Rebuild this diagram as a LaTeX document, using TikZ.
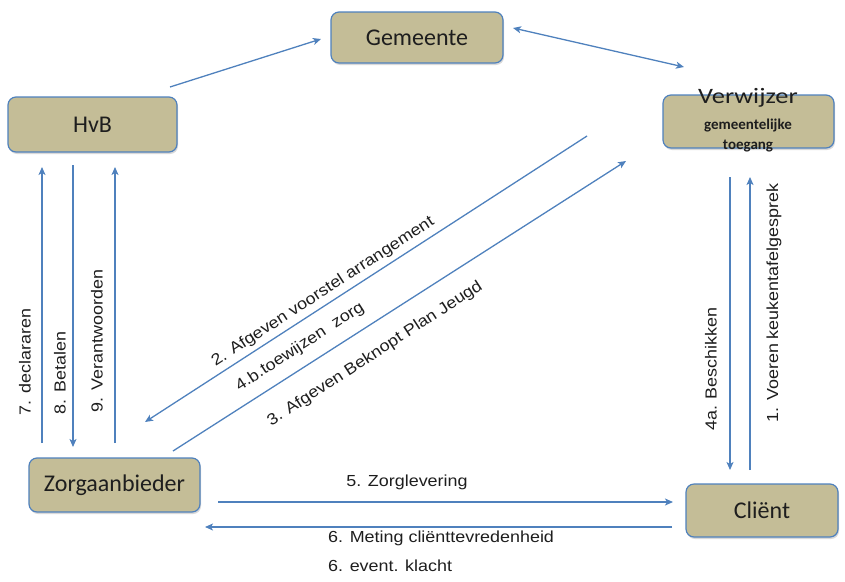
\documentclass[tikz,border=0pt]{standalone}
\usepackage{fontspec}
\setmainfont{Liberation Sans}
\newfontfamily\boxfont{Carlito}
\newfontfamily\boxwide[FakeStretch=1.2]{Carlito}
\newfontfamily\lblfont[FakeStretch=1.12]{Liberation Sans}
\usetikzlibrary{arrows.meta,shadows}
\definecolor{boxfill}{RGB}{196,189,151}
\definecolor{boxline}{RGB}{79,129,189}
\definecolor{arr}{RGB}{79,129,189}
\definecolor{txt}{RGB}{30,30,30}
\tikzset{
  entity/.style={draw=boxline, line width=1.2pt, fill=boxfill, rounded corners=8pt,
    drop shadow={opacity=0.3,shadow xshift=1pt,shadow yshift=-2pt},
    font=\boxfont\fontsize{24}{28}\selectfont, text=txt, inner sep=0pt},
  conn/.style={draw=arr, line width=1.3pt, -{Stealth[length=8pt,width=7pt,inset=2pt]}},
  both/.style={draw=arr, line width=1.3pt, {Stealth[length=8pt,width=7pt,inset=2pt]}-{Stealth[length=8pt,width=7pt,inset=2pt]}},
  lbl/.style={font=\lblfont\fontsize{16}{18}\selectfont, text=txt, inner sep=0pt},
}
\begin{document}
\begin{tikzpicture}[x=1pt,y=-1pt]
\useasboundingbox (0,0) rectangle (845,581);
% boxes
\node[entity, minimum width=172pt, minimum height=51pt] (gem) at (417,37.5) {Gemeente};
\node[entity, minimum width=171pt, minimum height=53pt] (verw) at (748.5,121.5) {};
\node[entity, minimum width=169pt, minimum height=55pt] (hvb) at (92.5,124.5) {HvB};
\node[entity, minimum width=171pt, minimum height=54pt] (zorg) at (114.5,485) {Zorgaanbieder};
\node[entity, minimum width=152pt, minimum height=53pt] (cli) at (762,510.5) {Cliënt};
\node[font=\boxwide\fontsize{22}{22}\selectfont, text=txt, inner sep=0pt] (verwt) at (748,98) {Verwijzer};
\node[font=\boxfont\bfseries\fontsize{15}{15}\selectfont, text=txt, inner sep=0pt] (verwg) at (748,126) {gemeentelijke};
\node[font=\boxfont\bfseries\fontsize{15}{15}\selectfont, text=txt, inner sep=0pt] (verwo) at (748,146) {toegang};
% coordinates
\coordinate (hg1) at (170,87);   \coordinate (hg2) at (321,39);
\coordinate (gv1) at (513,28);   \coordinate (gv2) at (684,67);
\coordinate (d2a) at (587,136);  \coordinate (d2b) at (145,422);
\coordinate (d3a) at (173,451);  \coordinate (d3b) at (626,161);
\coordinate (v7a) at (42,443);   \coordinate (v7b) at (42,167);
\coordinate (v8a) at (73,165);   \coordinate (v8b) at (73,447);
\coordinate (v9a) at (115,443);  \coordinate (v9b) at (115,167);
\coordinate (r4a) at (730,177);  \coordinate (r4b) at (730,470);
\coordinate (r1a) at (750,470);  \coordinate (r1b) at (750,177);
\coordinate (h5a) at (218,502);  \coordinate (h5b) at (673,502);
\coordinate (h6a) at (672,527);  \coordinate (h6b) at (205,527);
% connectors
\draw[conn] (hg1) -- (hg2);
\draw[both] (gv1) -- (gv2);
\draw[conn] (d2a) -- (d2b);
\draw[conn] (d3a) -- (d3b);
\draw[conn] (v7a) -- (v7b);
\draw[conn] (v8a) -- (v8b);
\draw[conn] (v9a) -- (v9b);
\draw[conn] (r4a) -- (r4b);
\draw[conn] (r1a) -- (r1b);
\draw[conn] (h5a) -- (h5b);
\draw[conn] (h6a) -- (h6b);
% labels
\node[lbl, rotate=90] (l7) at (25,362) {7. declararen};
\node[lbl, rotate=90] (l8) at (60,373) {8. Betalen};
\node[lbl, rotate=90] (l9) at (97,341) {9. Verantwoorden};
\node[lbl, rotate=90] (l4a) at (711,369) {4a. Beschikken};
\node[lbl, rotate=90] (l1) at (774,303) {1. Voeren keukentafelgesprek};
\node[lbl, rotate=33] (l2) at (323,292) {2. Afgeven voorstel arrangement};
\node[lbl, rotate=33] (l4b) at (300,347) {4.b.toewijzen \ zorg};
\node[lbl, rotate=33] (l3) at (375,354) {3. Afgeven Beknopt Plan Jeugd};
\node[lbl] (l5) at (407,482) {5. Zorglevering};
\node[lbl, anchor=west] (l6) at (328,538) {6. Meting cliënttevredenheid};
\node[lbl, anchor=west] (l6b) at (328,566) {6. event. klacht};
\end{tikzpicture}
\end{document}
